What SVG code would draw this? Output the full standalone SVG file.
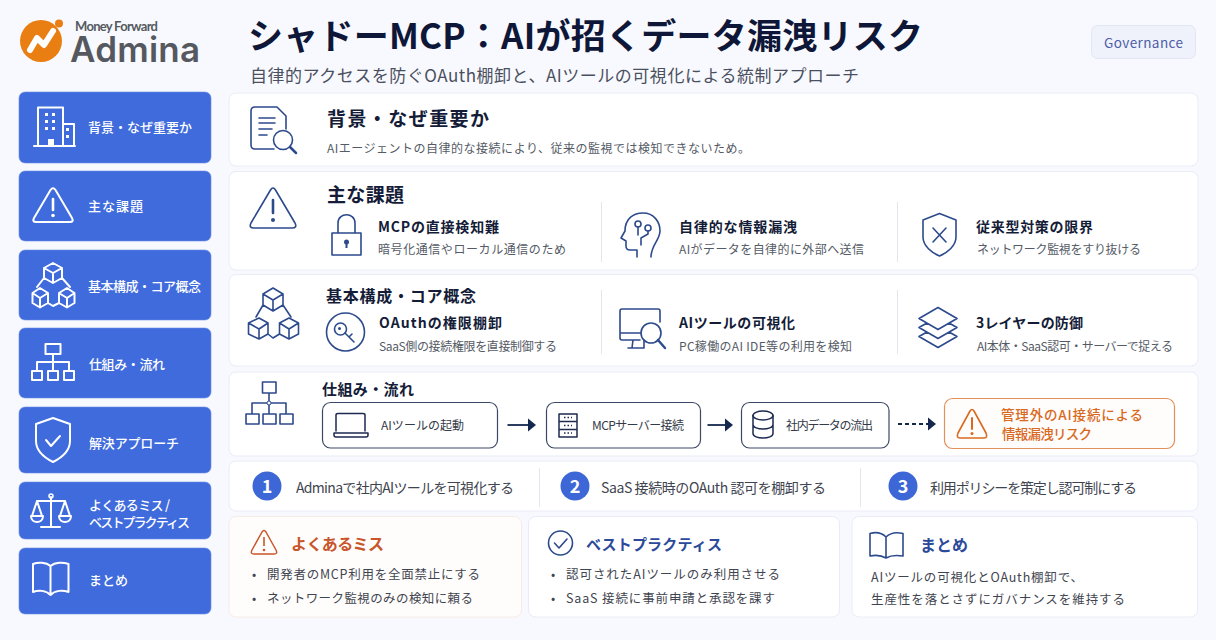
<svg xmlns="http://www.w3.org/2000/svg" width="1216" height="640" viewBox="0 0 1216 640">
<style>
text{font-family:"Noto Sans CJK JP","Noto Sans",sans-serif;fill:#3f4550;font-size:12px;font-weight:400}
.card{fill:#fff;stroke:#e9ecf7;stroke-width:1}
.side{fill:#3f6bdc;stroke:#6d8ce8;stroke-width:.6}
.si{fill:none;stroke:#fff;stroke-width:2;stroke-linejoin:round;stroke-linecap:round}
.st{fill:#fff;font-size:13px;font-weight:500}
.ic{fill:none;stroke:#2c4a8c;stroke-width:1.6;stroke-linejoin:round;stroke-linecap:round}
.dk{fill:none;stroke:#1d2a50;stroke-width:1.5;stroke-linejoin:round;stroke-linecap:round}
.or{fill:none;stroke:#d9691f;stroke-width:1.6;stroke-linejoin:round;stroke-linecap:round}
.h{fill:#141c38;font-size:19px;font-weight:700}
.h3{fill:#141c38;font-size:14px;font-weight:700}
.d{fill:#555b66;font-size:12px}
.b{fill:#3f4550;font-size:12.5px}
.sep{stroke:#e3e6ee;stroke-width:1}
.box{fill:#fff;stroke:#3d4866;stroke-width:1.2}
.num{fill:#fff;font-size:18px;font-weight:700;text-anchor:middle}
.n{fill:#3d66d6}
.arr{fill:none;stroke:#14284f;stroke-width:1.8}
.hd{fill:#14284f}
</style>
<rect width="1216" height="640" fill="#f8f9fe"/>

<g id="logo">
<circle cx="41" cy="41" r="21" fill="#e97f12"/>
<circle cx="59" cy="23.500" r="4" fill="#e97f12"/>
<path d="M30 50L37 38L44 45L53 31" fill="none" stroke="#fff" stroke-width="6" stroke-linejoin="round" stroke-linecap="round"/>
<text x="75" y="31" textLength="83" style="font-family:Lato,sans-serif;font-size:13px;fill:#555a60;font-weight:700">Money Forward</text>
<text x="70" y="62" textLength="130" style="font-family:Inter,sans-serif;font-size:35px;fill:#55595f;font-weight:600">Admina</text>
</g>

<g id="header">
<text x="248" y="49" textLength="675" style="font-size:35px;font-weight:700;fill:#0f1738">シャドーMCP：AIが招くデータ漏洩リスク</text>
<text x="250" y="82" textLength="609" style="font-size:17px;fill:#4a5060">自律的アクセスを防ぐOAuth棚卸と、AIツールの可視化による統制アプローチ</text>
</g>
<g id="badge">
<rect x="1091.500" y="25.500" width="104" height="33" rx="6" fill="#f0f2fb" stroke="#e2e5f5"/>
<text x="1104" y="48" textLength="79" style="font-size:13.500px;font-weight:400;fill:#4a5ca8">Governance</text>
</g>

<g id="nav-background">
<rect class="side" x="19" y="92" width="192" height="71" rx="6"/>
<path class="si" d="M38 146V107.500H63V146M63 124H74V146M34 146H75"/>
<path d="M45 113h3v3h-3zM52 113h3v3h-3zM45 120h3v3h-3zM52 120h3v3h-3zM45 127h3v3h-3zM52 127h3v3h-3zM66 128h3v3h-3zM66 135h3v3h-3zM48 139h6v7h-6z" fill="#fff"/>
<text class="st" x="88" y="132" textLength="104">背景・なぜ重要か</text>
</g>
<g id="nav-issues">
<rect class="side" x="19" y="171" width="192" height="70" rx="6"/>
<path class="si" d="M50.500 190Q53 186.500 55.500 190L72 218Q74 222 70 222H36Q32 222 34 218Z"/>
<path class="si" d="M53 199V210" style="stroke-width:2.600"/><circle cx="53" cy="215.500" r="1.800" fill="#fff"/>
<text class="st" x="88" y="211" textLength="55">主な課題</text>
</g>
<g id="nav-core">
<rect class="side" x="19" y="250" width="192" height="70" rx="6"/>
<path class="si" d="M53 263L62 268V278L53 283L44 278V268ZM44 268L53 273L62 268M53 273V283M40 288L48 293V303L40 307.500L32.500 303V293ZM32.500 293L40 298L48 293M40 298V307.500M67 288L74.500 293V303L67 307.500L59 303V293ZM59 293L67 298L74.500 293M67 298V307.500M44 278L37 287M62 278L70 287M48 303L53 306L59 303"/>
<text class="st" x="88" y="291" textLength="113">基本構成・コア概念</text>
</g>
<g id="nav-flow">
<rect class="side" x="19" y="328" width="192" height="70" rx="6"/>
<path class="si" d="M45.500 344H60.500V354H45.500ZM53 354V371M37 371V362H69V371M32 371H42V380H32ZM48 371H58V380H48ZM64 371H74V380H64Z"/>
<text class="st" x="89" y="369" textLength="76">仕組み・流れ</text>
</g>
<g id="nav-solution">
<rect class="side" x="19" y="407" width="192" height="66" rx="6"/>
<path class="si" d="M53 418L70 424V441C70 451 61 458 53 462C45 458 36 451 36 441V424Z"/>
<path class="si" d="M46 440L51 446L60 436"/>
<text class="st" x="89" y="448" textLength="90">解決アプローチ</text>
</g>
<g id="nav-practice">
<rect class="side" x="19" y="482" width="192" height="57" rx="6"/>
<path class="si" d="M51 497V527M41 527H60M37 501H65M37 501L32 516M37 501L42 516M65 501L60 516M65 501L70 516M31 516H43C43 524 31 524 31 516ZM59 516H71C71 524 59 524 59 516Z"/>
<circle cx="51" cy="496" r="2" fill="none" stroke="#fff" stroke-width="1.500"/>
<text class="st" x="89" y="510" textLength="81">よくあるミス /</text>
<text class="st" x="89" y="527" textLength="101">ベストプラクティス</text>
</g>
<g id="nav-summary">
<rect class="side" x="19" y="548" width="192" height="66" rx="6"/>
<path class="si" d="M50.500 566C46 562 38 562 33 564V592C38 590 46 590 50.500 595C55 590 63 590 68.500 592V564C63 562 55 562 50.500 566ZM50.500 566V595"/>
<text class="st" x="89" y="585" textLength="39">まとめ</text>
</g>

<g id="card-background">
<rect class="card" x="229" y="93" width="969" height="73" rx="7"/>
<path class="ic" d="M277 107H255Q251 107 251 111V145Q251 149 255 149H274M277 107L286 116V129"/>
<path class="ic" d="M259 118H275M259 123H275M259 129H272M259 135H267"/>
<circle class="ic" cx="283" cy="140" r="9.500"/><path class="ic" d="M290 147L296 153" style="stroke-width:2.500"/>
<text class="h" x="327" y="126" textLength="162">背景・なぜ重要か</text>
<text class="d" x="327" y="153" textLength="423">AIエージェントの自律的な接続により、従来の監視では検知できないため。</text>
</g>

<g id="card-issues">
<rect class="card" x="229" y="171.500" width="969" height="98.500" rx="7"/>
<path class="ic" d="M270.500 190Q273 186 275.500 190L295 223Q297.500 228 292 228H254Q248.500 228 251 223Z"/><path class="ic" d="M273 200V213" style="stroke-width:2.600"/><circle cx="273" cy="220" r="2" fill="#2c4a8c"/>
<text class="h" x="327" y="202" textLength="77">主な課題</text>
<path class="ic" d="M332 233H361V255H332ZM338 233V223C338 212 355 212 355 223V233"/>
<circle cx="346.500" cy="242" r="2.500" fill="#2c4a8c"/><path d="M346.500 243V248" stroke="#2c4a8c" stroke-width="2"/>
<text class="h3" x="378" y="232" textLength="121">MCPの直接検知難</text>
<text class="d" x="378" y="254" textLength="188">暗号化通信やローカル通信のため</text>
<line class="sep" x1="601.500" y1="202" x2="601.500" y2="262"/>
<path class="ic" d="M637 257V250H630Q626 250 626 246V241L621 238L625 231C625 218 634 213 643 213C654 213 660 222 660 231C660 240 651 245 651 257"/>
<circle class="ic" cx="638" cy="224" r="3"/><circle class="ic" cx="648" cy="228" r="3"/>
<path class="ic" d="M638 227V235M648 231V234L641 238V245"/>
<text class="h3" x="679" y="232" textLength="118">自律的な情報漏洩</text>
<text class="d" x="679" y="254" textLength="185">AIがデータを自律的に外部へ送信</text>
<line class="sep" x1="897.500" y1="202" x2="897.500" y2="262"/>
<path class="ic" d="M939.500 213.500L956 220V237C956 246 947 253 939.500 256C932 253 923 246 923 237V220Z"/>
<path class="ic" d="M933 228L946 242M946 228L933 242"/>
<text class="h3" x="976" y="232" textLength="117">従来型対策の限界</text>
<text class="d" x="977" y="254" textLength="164">ネットワーク監視をすり抜ける</text>
</g>

<g id="card-core">
<rect class="card" x="229" y="274.500" width="969" height="91.500" rx="7"/>
<path class="ic" d="M273 288L283 294V305L273 311L263 305V294ZM263 294L273 300L283 294M273 300V311M259 318L268 323V334L259 339L248.500 334V323ZM248.500 323L259 329L268 323M259 329V339M289 318L298.500 323V334L289 339L279.500 334V323ZM279.500 323L289 329L298.500 323M289 329V339M263 305L256 317M283 305L291 317M268 334L273 338L279.500 334"/>
<text class="h" x="326" y="302" textLength="150" style="font-size:16px">基本構成・コア概念</text>
<circle class="ic" cx="345.500" cy="332" r="19"/>
<circle class="ic" cx="340.500" cy="329" r="6"/><circle cx="339.500" cy="328.500" r="1.500" fill="#2c4a8c"/>
<path class="ic" d="M345 333L354 342M349 337L352 334"/>
<text class="h3" x="379" y="328" textLength="123">OAuthの権限棚卸</text>
<text class="d" x="379" y="351" textLength="178">SaaS側の接続権限を直接制御する</text>
<line class="sep" x1="601.500" y1="290" x2="601.500" y2="354"/>
<path class="ic" d="M640 340H622Q620 340 620 338V311Q620 309 622 309H658Q660 309 660 311V322M620 333H641M633 340L632 348M644 340V348H628"/>
<circle class="ic" cx="651" cy="333" r="10"/><path class="ic" d="M658 340L665 348" style="stroke-width:2.400"/>
<text class="h3" x="679" y="328" textLength="116">AIツールの可視化</text>
<text class="d" x="679" y="351" textLength="173">PC稼働のAI IDE等の利用を検知</text>
<line class="sep" x1="897.500" y1="290" x2="897.500" y2="354"/>
<path class="ic" d="M938 307.500L957 318.500L938 329.500L919 318.500ZM927 323L919 327.500L938 338.500L957 327.500L949 323M927 332L919 336.500L938 347.500L957 336.500L949 332"/>
<text class="h3" x="976" y="328" textLength="107">3レイヤーの防御</text>
<text class="d" x="977" y="351" textLength="196">AI本体・SaaS認可・サーバーで捉える</text>
</g>

<g id="card-flow">
<rect class="card" x="229" y="372" width="969" height="84" rx="7"/>
<path class="ic" d="M262.500 382H276V393H262.500ZM269 393V414M252 414V403H286V414M246 414H259V424H246ZM263 414H276V424H263ZM280 414H293V424H280Z"/>
<circle cx="269" cy="403" r="2" fill="#fff" stroke="#2c4a8c"/>
<text x="322" y="395" textLength="92" style="font-size:15px;font-weight:700;fill:#141c38">仕組み・流れ</text>
</g>

<g id="step-launch">
<rect class="box" x="322.500" y="402.500" width="175" height="45.500" rx="8"/>
<path class="dk" d="M336 431V415Q336 413.500 338 413.500H363Q365 413.500 365 415V431M334 433H368V435Q368 437 366 437H336Q334 437 334 435Z"/>
<text x="381" y="430" textLength="83" style="fill:#333a48">AIツールの起動</text>
</g>
<g id="step-server">
<rect class="box" x="546.500" y="402.500" width="154" height="45.500" rx="8"/>
<path class="dk" d="M559 414H577V421.500H559ZM559 421.500H577V429.500H559ZM559 429.500H577V437H559Z"/>
<path d="M564 417.500h8M564 425.500h8M564 433h8" stroke="#1d2a50" stroke-width="1.500" stroke-dasharray="1.500 2"/>
<text x="592" y="430" textLength="92" style="fill:#333a48">MCPサーバー接続</text>
</g>
<g id="step-data">
<rect class="box" x="741.500" y="402.500" width="147.500" height="45.500" rx="8"/>
<ellipse class="dk" cx="763" cy="415.500" rx="10" ry="4.500"/>
<path class="dk" d="M753 415.500V433.500C753 439.500 773 439.500 773 433.500V415.500M753 424.500C753 430.500 773 430.500 773 424.500"/>
<text x="786" y="430" textLength="87" style="fill:#333a48">社内データの流出</text>
</g>
<g id="step-risk">
<rect x="944.500" y="398.500" width="230" height="50" rx="8" fill="#fffdfb" stroke="#e2915a" stroke-width="1.200"/>
<path class="or" d="M970 411Q972 408 974 411L986 433Q988 438 984 438H960Q956 438 958 433Z"/><path class="or" d="M972 418V429" style="stroke-width:2"/><circle cx="972" cy="433.500" r="1.500" fill="#d9691f"/>
<text x="1001" y="420" textLength="142" style="font-size:13.500px;font-weight:500;fill:#d9691f">管理外のAI接続による</text>
<text x="1002" y="439" textLength="90" style="font-size:13.500px;font-weight:500;fill:#d9691f">情報漏洩リスク</text>
</g>

<g id="connectors">
<path class="arr" d="M507.500 425H528"/><path class="hd" d="M528 418.500L536 425L528 431.500Z"/>
<path class="arr" d="M707.500 425H726"/><path class="hd" d="M725 418.500L733 425L725 431.500Z"/>
<path class="arr" d="M898 424H929" stroke-dasharray="4 3"/><path class="hd" d="M928 417.500L936 424L928 430.500Z"/>
</g>

<g id="card-steps">
<rect class="card" x="229" y="461" width="969" height="50" rx="7"/>
<line class="sep" x1="539.500" y1="468" x2="539.500" y2="507"/>
<line class="sep" x1="860.500" y1="468" x2="860.500" y2="507"/>
</g>
<g id="step-1">
<circle class="n" cx="267" cy="486" r="14.500"/><text class="num" x="267" y="492.500">1</text>
<text x="296" y="493" textLength="218" style="font-size:14px">Adminaで社内AIツールを可視化する</text>
</g>
<g id="step-2">
<circle class="n" cx="575" cy="486" r="14.500"/><text class="num" x="575" y="492.500">2</text>
<text x="601" y="493" textLength="225" style="font-size:14px">SaaS 接続時のOAuth 認可を棚卸する</text>
</g>
<g id="step-3">
<circle class="n" cx="903" cy="486" r="14.500"/><text class="num" x="903" y="492.500">3</text>
<text x="930" y="493" textLength="207" style="font-size:14px">利用ポリシーを策定し認可制にする</text>
</g>

<g id="card-mistakes">
<rect x="229" y="516.500" width="292.500" height="100.500" rx="7" fill="#fffdfc" stroke="#f6ebe6"/>
<path d="M262 532Q264 529 266 532L276 550Q278 554 274 554H254Q250 554 252 550Z" fill="none" stroke="#c8562a" stroke-width="1.500" stroke-linejoin="round"/>
<path d="M264 537V546" stroke="#c8562a" stroke-width="1.600"/><circle cx="264" cy="550" r="1.300" fill="#c8562a"/>
<text x="291" y="550" textLength="93" style="font-size:16px;font-weight:700;fill:#c8562a">よくあるミス</text>
<text class="b" x="252" y="579">•</text><text class="b" x="267" y="579" textLength="213">開発者のMCP利用を全面禁止にする</text>
<text class="b" x="252" y="603">•</text><text class="b" x="267" y="603" textLength="206">ネットワーク監視のみの検知に頼る</text>
</g>
<g id="card-best">
<rect class="card" x="528.500" y="516.500" width="311" height="100.500" rx="7"/>
<circle class="ic" cx="560.500" cy="543" r="12"/><path class="ic" d="M554.500 543L559 548L567 539"/>
<text x="586" y="550" textLength="136" style="font-size:15px;font-weight:700;fill:#2c4a9a">ベストプラクティス</text>
<text class="b" x="551" y="579">•</text><text class="b" x="566" y="579" textLength="214">認可されたAIツールのみ利用させる</text>
<text class="b" x="551" y="603">•</text><text class="b" x="566" y="603" textLength="209">SaaS 接続に事前申請と承認を課す</text>
</g>
<g id="card-summary">
<rect class="card" x="852" y="516.500" width="345.500" height="100.500" rx="7"/>
<path class="ic" d="M886 537C881 532 875 532 870 533.500V556C875 555 881 555 886 558C891 555 897 555 903 556V533.500C897 532 891 532 886 537ZM886 537V558"/>
<text x="920" y="551" textLength="48" style="font-size:16px;font-weight:700;fill:#2c4a9a">まとめ</text>
<text class="b" x="871" y="582" textLength="212">AIツールの可視化とOAuth棚卸で、</text>
<text class="b" x="871" y="604" textLength="254">生産性を落とさずにガバナンスを維持する</text>
</g>
</svg>
